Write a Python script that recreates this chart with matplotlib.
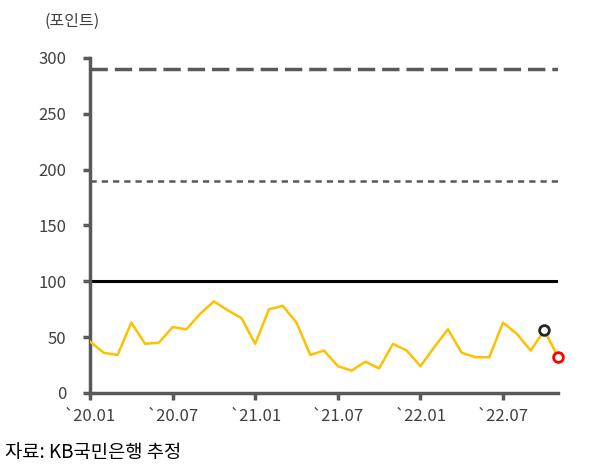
import numpy as np
import matplotlib.pyplot as plt

plt.rcParams['font.family'] = ['Noto Sans CJK KR', 'DejaVu Sans']

months = ['`20.01', '`20.07', '`21.01', '`21.07', '`22.01', '`22.07']
index_vals = [46, 36, 34, 63, 44, 45, 59, 57, 71, 82, 74, 67,
              44, 75, 78, 63, 34, 38, 24, 20, 28, 22, 44, 38,
              24, 41, 57, 36, 32, 32, 63, 53, 38, 56, 32]
level_long = 290
level_short = 190
level_solid = 100

gray = '#595959'
x = np.arange(len(index_vals))

fig = plt.figure(figsize=(6.14, 4.67), dpi=100)
ax = fig.add_axes([0.1466, 0.1585, 0.7624, 0.7175])

ax.axhline(level_long, color=gray, lw=2.5, ls=(0, (5, 2)))
ax.axhline(level_short, color=gray, lw=1.8, ls=(0, (2.5, 2)))
ax.axhline(level_solid, color='black', lw=2.2)

ax.plot(x, index_vals, color='#FFC000', lw=1.8, zorder=3)
ax.plot(x[-2], index_vals[-2], 'o', ms=7, mfc='white', mec='#262626', mew=2, zorder=4, clip_on=False)
ax.plot(x[-1], index_vals[-1], 'o', ms=7, mfc='white', mec='#FF0000', mew=2, zorder=4, clip_on=False)

ax.set_xlim(0, len(index_vals) - 1)
ax.set_ylim(0, 300)
ax.set_yticks(range(0, 301, 50))
ax.set_xticks(range(0, len(index_vals), 6))
ax.set_xticklabels(months)

for s in ['top', 'right']:
    ax.spines[s].set_visible(False)
for s in ['left', 'bottom']:
    ax.spines[s].set_color(gray)
    ax.spines[s].set_linewidth(2.5)
ax.tick_params(axis='both', colors=gray, width=2.5, length=5, labelsize=12, labelcolor='#404040')
ax.tick_params(axis='y', pad=12)
ax.tick_params(axis='x', pad=6)

fig.text(0.073, 0.955, '(포인트)', fontsize=11.5, color='#404040', va='center')
fig.text(0.008, 0.03, '자료: KB국민은행 추정', fontsize=13.5, color='black', va='center')

fig.savefig('out.png', dpi=100)
